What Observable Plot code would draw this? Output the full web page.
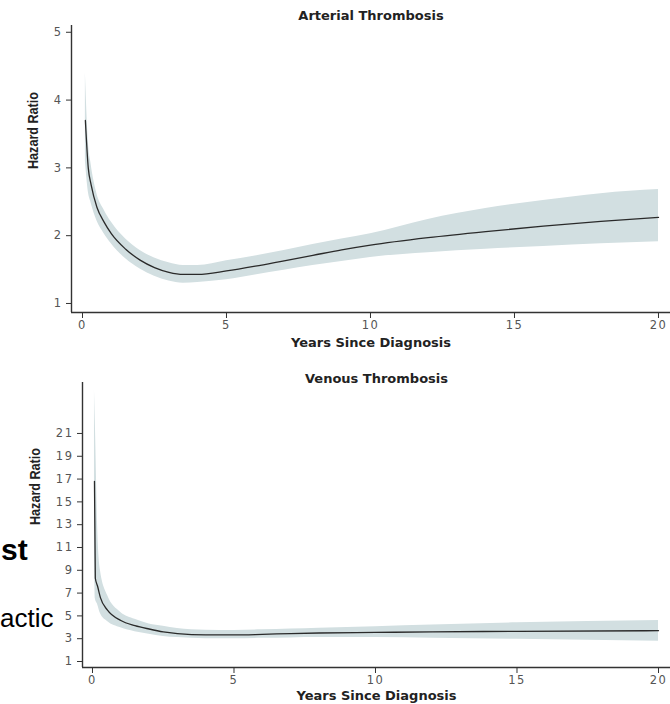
<!DOCTYPE html>
<html><head><meta charset="utf-8">
<script src="https://cdn.jsdelivr.net/npm/d3@7"></script>
<script src="https://cdn.jsdelivr.net/npm/@observablehq/plot@0.6"></script>
<style>
body{margin:0;background:#fff;}
#wrap{position:relative;width:670px;height:704px;overflow:hidden;background:#fff;}
#top,#bot{position:absolute;left:0;}
#top{top:0px;} #bot{top:352px;}
#wrap svg g[aria-label$="tick label"] text{letter-spacing:1.5px;}
.bg{position:absolute;font-family:"Liberation Sans",Arial,sans-serif;font-size:30px;line-height:30px;color:#000;white-space:nowrap;}
</style></head><body>
<div id="wrap"><div id="top"></div><div id="bot"></div>
<div class="bg" style="left:1px;top:535px;font-weight:bold;">st</div>
<div class="bg" style="left:0px;top:603px;font-size:26px;">actic</div>
</div>
<script>
// Arterial thrombosis
const artYears = [0.1, 0.2, 0.3, 0.5, 0.75, 1, 1.5, 2, 2.5, 3, 3.5, 4, 5, 6, 7, 8, 9, 10, 12, 14, 16, 18, 20];
const artHR    = [3.7, 3.0, 2.75, 2.42, 2.2, 2.03, 1.8, 1.64, 1.53, 1.46, 1.43, 1.43, 1.48, 1.55, 1.63, 1.71, 1.79, 1.86, 1.97, 2.06, 2.14, 2.21, 2.27];
const artUpper = [4.4, 3.4, 3.05, 2.62, 2.38, 2.2, 1.95, 1.78, 1.67, 1.6, 1.56, 1.56, 1.63, 1.70, 1.78, 1.87, 1.95, 2.03, 2.24, 2.40, 2.52, 2.62, 2.68];
const artLower = [3.1, 2.65, 2.48, 2.22, 2.03, 1.88, 1.66, 1.51, 1.4, 1.33, 1.3, 1.31, 1.35, 1.42, 1.49, 1.56, 1.62, 1.68, 1.75, 1.80, 1.84, 1.88, 1.91];
const artTicksY = [1, 2, 3, 4, 5];

// Venous thrombosis
const venYears = [0.07, 0.1, 0.18, 0.28, 0.53, 1, 1.5, 2, 2.5, 3, 4, 5, 6, 7, 8, 10, 12, 15, 20];
const venHR    = [16.8, 8.3, 7.6, 6.6, 5.5, 4.6, 4.15, 3.85, 3.6, 3.45, 3.33, 3.33, 3.38, 3.45, 3.5, 3.55, 3.6, 3.65, 3.7];
const venUpper = [24.8, 22, 13, 9, 6.8, 5.3, 4.7, 4.3, 4.1, 3.9, 3.75, 3.72, 3.78, 3.85, 3.92, 4.05, 4.2, 4.4, 4.6];
const venLower = [11, 6.5, 6.0, 5.2, 4.5, 3.95, 3.62, 3.4, 3.2, 3.1, 3.0, 3.0, 3.03, 3.07, 3.1, 3.1, 3.05, 2.95, 2.78];
const venTicksY = [1, 3, 5, 7, 9, 11, 13, 15, 17, 19, 21];

const xTicks = [0, 5, 10, 15, 20];
const xLabel = "Years Since Diagnosis";
const yLabel = "Hazard Ratio";
const titles = ["Arterial Thrombosis", "Venous Thrombosis"];

const bandColor = "#d2dfe1";
const lineColor = "#2a2a2a";
const axisColor = "#333";

function panel({years, hr, upper, lower, yTicks, xDomain, yDomain, marginLeft, marginTop, marginBottom, title, titleDy, xLabDy, yLabDx}) {
  const data = years.map((t, i) => ({t, hr: hr[i], hi: upper[i], lo: lower[i]}));
  const svg = Plot.plot({
    width: 670, height: 352,
    marginLeft, marginRight: 0, marginTop, marginBottom,
    style: {fontFamily: "DejaVu Sans, sans-serif", fontSize: "11.5px", color: "#555", background: "white"},
    x: {domain: xDomain},
    y: {domain: yDomain},
    marks: [
      Plot.areaY(data, {x: "t", y1: "lo", y2: "hi", fill: bandColor, curve: "monotone-x"}),
      Plot.lineY(data, {x: "t", y: "hr", stroke: lineColor, strokeWidth: 1.3, curve: "monotone-x"}),
      Plot.ruleX([xDomain[0]], {stroke: axisColor, strokeWidth: 1.4}),
      Plot.ruleY([yDomain[0]], {stroke: axisColor, strokeWidth: 1.4}),
      Plot.axisY({ticks: yTicks, tickFormat: d => String(d), tickSize: 5, tickPadding: 4, label: null, stroke: axisColor}),
      Plot.axisX({ticks: xTicks, tickFormat: d => String(d), tickSize: 6, tickPadding: 2, label: null, stroke: axisColor}),
      Plot.text([title], {frameAnchor: "top", dy: titleDy, text: d => d, fontWeight: "bold", fontSize: 13, fill: "#222", lineAnchor: "middle"}),
      Plot.text([xLabel], {frameAnchor: "bottom", dy: xLabDy, text: d => d, fontWeight: "bold", fontSize: 13, fill: "#222", lineAnchor: "middle"}),
      Plot.text([yLabel], {frameAnchor: "left", dx: yLabDx, text: d => d, rotate: -90, fontWeight: "bold", fontSize: 15,
        fontFamily: "Liberation Sans, Arial, sans-serif", fill: "#222", lineAnchor: "middle"})
    ]
  });
  // condense the y-axis label like the reference's narrow bold face
  d3.select(svg).selectAll("text").filter(function() { return this.textContent === yLabel; })
    .attr("textLength", 77).attr("lengthAdjust", "spacingAndGlyphs");
  return svg;
}

document.getElementById("top").append(panel({
  years: artYears, hr: artHR, upper: artUpper, lower: artLower, yTicks: artTicksY,
  xDomain: [-0.382, 20.417], yDomain: [0.867, 5.10],
  marginLeft: 71, marginTop: 25, marginBottom: 40,
  title: titles[0], titleDy: -10, xLabDy: 30, yLabDx: -38
}));

document.getElementById("bot").append(panel({
  years: venYears, hr: venHR, upper: venUpper, lower: venLower, yTicks: venTicksY,
  xDomain: [-0.353, 20.424], yDomain: [0.474, 25.47],
  marginLeft: 82, marginTop: 30, marginBottom: 37,
  title: titles[1], titleDy: -4, xLabDy: 28, yLabDx: -47
}));
</script>
</body></html>
